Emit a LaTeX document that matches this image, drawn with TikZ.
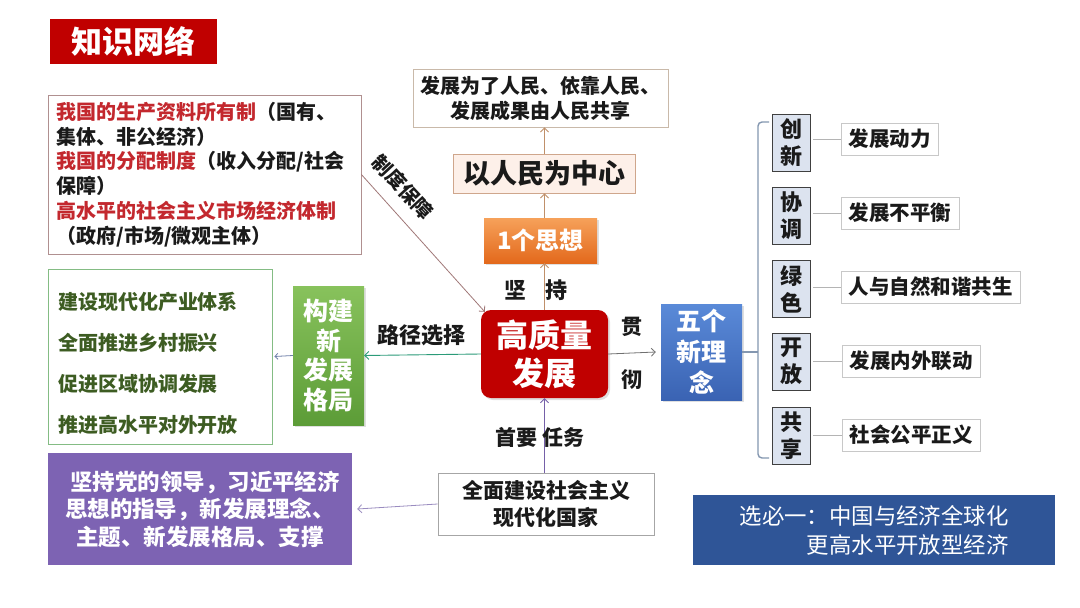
\documentclass[tikz,border=0pt]{standalone}
\usepackage{fontspec}
\setmainfont{Noto Sans CJK SC}
\usetikzlibrary{arrows.meta,shadows}
\definecolor{tred}{HTML}{C00000}
\definecolor{txtred}{HTML}{C3282E}
\definecolor{sysborder}{HTML}{B09090}
\definecolor{sysline}{HTML}{A07878}
\definecolor{pborder}{HTML}{C9B9A9}
\definecolor{cfill}{HTML}{FDF0E9}
\definecolor{cborder}{HTML}{CFA68C}
\definecolor{tanarrow}{HTML}{C0906A}
\definecolor{orangetop}{HTML}{F6A15A}
\definecolor{orangebot}{HTML}{E3691C}
\definecolor{bluetop}{HTML}{5A8AD8}
\definecolor{bluebot}{HTML}{3A63B3}
\definecolor{brkcol}{HTML}{8497B0}
\definecolor{sfill}{HTML}{DCE3EF}
\definecolor{sborder}{HTML}{404040}
\definecolor{rborder}{HTML}{C8C8C8}
\definecolor{rline}{HTML}{B4B4B4}
\definecolor{gborder}{HTML}{84BC84}
\definecolor{gtext}{HTML}{3D5C22}
\definecolor{greentop}{HTML}{88C25C}
\definecolor{greenbot}{HTML}{5C9C37}
\definecolor{tealarrow}{HTML}{2B9B78}
\definecolor{listarrow}{HTML}{6E7FA8}
\definecolor{purplefill}{HTML}{7D63B3}
\definecolor{purplearrow}{HTML}{9A8CC0}
\definecolor{taskarrow}{HTML}{7560A8}
\definecolor{taskborder}{HTML}{A6A6A6}
\definecolor{bluebox}{HTML}{2F5597}
\definecolor{grayarrow}{HTML}{707070}
\definecolor{ink}{HTML}{1A1A1A}
\newcommand\fz[2]{\fontsize{#1}{#2}\selectfont}
\begin{document}
\begin{tikzpicture}[x=1pt,y=-1pt,
  every node/.style={inner sep=0pt, align=center, text=ink},
  arr/.style={-{Straight Barb[length=4pt,width=8pt]}, line width=0.9pt},
  shd/.style={drop shadow={opacity=0.25, shadow xshift=2pt, shadow yshift=-2pt}},
  sbox/.style={draw=sborder, fill=sfill, line width=0.8pt, minimum width=38pt, minimum height=57pt, font=\bfseries\fz{22}{27}},
  rbox/.style={draw=rborder, line width=0.8pt, minimum height=32pt, font=\bfseries\fz{20.5}{24}},
  rconn/.style={draw=rline, line width=0.9pt},
  lbl/.style={font=\bfseries\fz{21}{24}}
]
\fill[white] (0,0) rectangle (1080,608);
\useasboundingbox (0,0) rectangle (1080,608);

% title
\node[fill=tred, minimum width=167pt, minimum height=45pt, text=white, font=\bfseries\fz{31}{31}] (title) at (133.5,41.5) {知识网络};

% system box
\node[draw=sysborder, line width=0.8pt, minimum width=313pt, minimum height=159pt, text width=296pt, align=left, inner xsep=8.5pt, font=\bfseries\fz{20}{24.8}] (sys) at (204.5,174.5)
{{\color{txtred}我国的生产资料所有制}（国有、\\
集体、非公经济）\\
{\color{txtred}我国的分配制度}（收入分配/社会\\
保障）\\
{\color{txtred}高水平的社会主义市场经济体制}\\
（政府/市场/微观主体）};

% people box
\node[draw=pborder, line width=0.8pt, fill=white, minimum width=255pt, minimum height=58pt, font=\bfseries\fz{20}{25}] (people) at (540.5,98) {发展为了人民、依靠人民、\\发展成果由人民共享};

% center
\node[draw=cborder, line width=0.8pt, fill=cfill, minimum width=182pt, minimum height=39pt, font=\bfseries\fz{27}{30}] (center) at (544,173.5) {以人民为中心};

% one thought
\node[shd, top color=orangetop, bottom color=orangebot, minimum width=113pt, minimum height=45pt, text=white, font=\bfseries\fz{24}{28}] (think) at (540.5,240.5) {1个思想};

% high quality development
\node[shd, fill=tred, rounded corners=10pt, minimum width=127pt, minimum height=88pt, text=white, font=\bfseries\fz{32}{38}] (hq) at (544.5,354) {高质量\\发展};

% labels 坚持
\node[lbl, font=\bfseries\fz{22}{24}] (jian) at (515,290) {坚};
\node[lbl, font=\bfseries\fz{22}{24}] (chi) at (556,290) {持};

% arrows up
\draw[arr, draw=tanarrow] (hq.north) -- (hq.north |- think.south);
\draw[arr, draw=tanarrow] (hq.north |- think.north) -- (hq.north |- center.south);
\draw[arr, draw=tanarrow] (hq.north |- center.north) -- (hq.north |- people.south);

% 制度保障
\node[rotate=-47, font=\bfseries\fz{19.5}{22}] (lblsys) at (403,187) {制度保障};
\draw[arr, draw=sysline, line width=0.8pt] (sys.east) -- ([xshift=4pt,yshift=-2pt]hq.north west);

% five ideas
\node[shd, top color=bluetop, bottom color=bluebot, minimum width=81pt, minimum height=96pt, text=white, font=\bfseries\fz{25}{31}] (ideas) at (701.5,352) {五个\\新理\\念};
\node[lbl] (guan) at (632,327) {贯};
\node[lbl] (che) at (632,380) {彻};
\draw[arr, draw=grayarrow, line width=0.8pt] (hq.east) -- ([xshift=-5pt]ideas.west);

% bracket
\coordinate (bt) at (758,122);
\coordinate (bb) at (758,458);
\coordinate (btr) at (769,122);
\coordinate (bbr) at (769,458);
\draw[draw=brkcol, line width=1.4pt] (ideas.east) -- (ideas.east -| bt);
\draw[draw=brkcol, line width=1.4pt, rounded corners=4pt] (btr) -- (bt) -- (bb) -- (bbr);

% small boxes
\node[sbox] (cx) at (791,142.5) {创\\新};
\node[sbox] (xt) at (791,215.5) {协\\调};
\node[sbox] (ls) at (791,289) {绿\\色};
\node[sbox] (kf) at (791,361.5) {开\\放};
\node[sbox] (gx) at (791,435.5) {共\\享};

% right boxes
\node[rbox, minimum width=97pt] (r1) at (889.5,139) {发展动力};
\node[rbox, minimum width=118pt] (r2) at (900,213) {发展不平衡};
\node[rbox, minimum width=179pt] (r3) at (930.5,287) {人与自然和谐共生};
\node[rbox, minimum width=138pt] (r4) at (911,361) {发展内外联动};
\node[rbox, minimum width=138pt] (r5) at (911,435) {社会公平正义};
\draw[rconn] ([xshift=3pt]cx.east |- r1.west) -- (r1.west);
\draw[rconn] ([xshift=3pt]xt.east |- r2.west) -- (r2.west);
\draw[rconn] ([xshift=3pt]ls.east |- r3.west) -- (r3.west);
\draw[rconn] ([xshift=3pt]kf.east |- r4.west) -- (r4.west);
\draw[rconn] ([xshift=3pt]gx.east |- r5.west) -- (r5.west);

% green list
\node[draw=gborder, line width=0.8pt, minimum width=224pt, minimum height=175pt] (glist) at (160,356.5) {};
\node[text width=204pt, align=left, text=gtext, font=\bfseries\fz{20}{41}] (glisttext) at (160,363)
{建设现代化产业体系\\全面推进乡村振兴\\促进区域协调发展\\推进高水平对外开放};

% green box
\node[shd, top color=greentop, bottom color=greenbot, minimum width=71pt, minimum height=139pt, text=white, font=\bfseries\fz{25}{29.5}] (green) at (328.5,355.5) {构建\\新\\发展\\格局};
\draw[arr, draw=tealarrow] (hq.west) -- (green.east);
\node[lbl, font=\bfseries\fz{22}{24}] (lujing) at (421,335) {路径选择};
\draw[arr, draw=listarrow, line width=0.8pt, -{Straight Barb[length=3pt,width=6pt]}] (green.west) -- ([xshift=2pt]glist.east);

% task box
\node[draw=taskborder, line width=0.8pt, fill=white, minimum width=216pt, minimum height=62pt, font=\bfseries\fz{21}{27}] (task) at (546,504) {全面建设社会主义\\现代化国家};
\draw[arr, draw=taskarrow] (task.north -| hq.south) -- (hq.south);
\node[lbl] (shouyao) at (540,437) {首要 任务};

% purple box
\node[fill=purplefill, minimum width=304pt, minimum height=112pt, text=white, font=\bfseries\fz{22.5}{27.5}] (purple) at (200,509)
{\hspace*{10pt}坚持党的领导，习近平经济\\思想的指导，新发展理念、\\主题、新发展格局、支撑};
\draw[arr, draw=purplearrow, line width=0.8pt] (task.west) -- ([xshift=5pt]purple.east);

% blue box
\node[fill=bluebox, minimum width=362pt, minimum height=70pt, text=white, align=right, font=\mdseries\fz{22.4}{29}] (elective) at (874,530) {选必一：中国与经济全球化\\更高水平开放型经济};
\end{tikzpicture}
\end{document}
